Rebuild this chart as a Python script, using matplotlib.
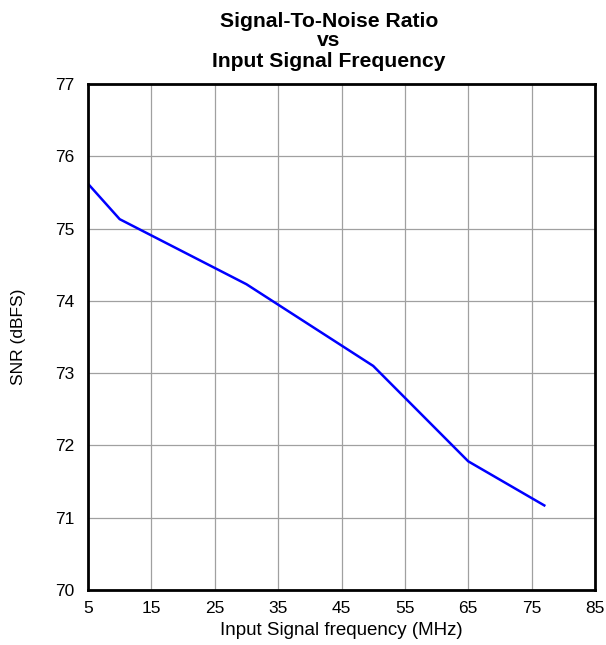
import matplotlib
matplotlib.use("Agg")
import matplotlib.pyplot as plt

plt.rcParams['font.family'] = ['Liberation Sans', 'DejaVu Sans']

freq_mhz = [5, 10, 30, 50, 65, 77]
snr_dbfs = [75.62, 75.13, 74.23, 73.10, 71.78, 71.17]
x_ticks = [5, 15, 25, 35, 45, 55, 65, 75, 85]
y_ticks = [70, 71, 72, 73, 74, 75, 76, 77]
title_lines = ['Signal-To-Noise Ratio', 'vs', 'Input Signal Frequency']

W, H = 606, 645
fig = plt.figure(figsize=(W/100, H/100), dpi=100)
ax = fig.add_axes([88/W, 1 - 590/H, (595-88)/W, (590-84)/H])
ax.plot(freq_mhz, snr_dbfs, color='#0000ff', linewidth=1.8)
ax.set_xlim(5, 85)
ax.set_ylim(70, 77)
ax.set_xticks(x_ticks)
ax.set_yticks(y_ticks)
ax.grid(True, color='#a0a0a0', linewidth=0.9)
ax.set_axisbelow(True)
for s in ax.spines.values():
    s.set_linewidth(2)
    s.set_color('black')
ax.tick_params(axis='x', length=0, labelsize=12.5, pad=8)
ax.tick_params(axis='y', length=0, labelsize=12.5, pad=9.5)
ax.set_xlabel('Input Signal frequency (MHz)', fontsize=13.5, labelpad=4)
ax.set_ylabel('SNR (dBFS)', fontsize=12.5, va='center')
ax.yaxis.set_label_coords((19 - 88) / (595 - 88), 0.5)

for line, base in zip(title_lines, [27, 45.5, 67]):
    fig.text(329/W, 1 - base/H, line, fontsize=15.2, fontweight='bold',
             ha='center', va='baseline')
fig.savefig('out.png', dpi=100)
